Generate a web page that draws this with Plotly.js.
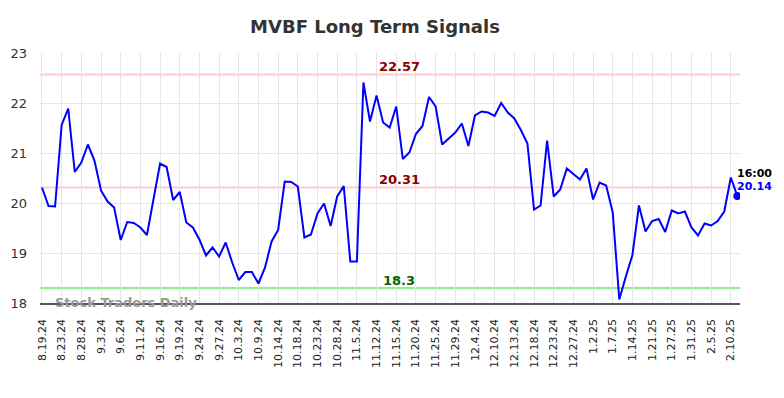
<!DOCTYPE html>
<html>
<head>
<meta charset="utf-8">
<script src="https://cdn.plot.ly/plotly-3.0.1.min.js"></script>
<style>html,body{margin:0;padding:0;background:#fff;}#chart{width:784px;height:398px;}</style>
</head>
<body>
<div id="chart"></div>
<script>
// Price series (one value per trading session, index 0..106)
const prices = [
  20.31, 19.94, 19.93, 21.56, 21.89, 20.62, 20.81, 21.17, 20.85, 20.25,
  20.03, 19.91, 19.26, 19.62, 19.60, 19.51, 19.36, 20.05, 20.79, 20.72,
  20.06, 20.22, 19.61, 19.51, 19.27, 18.95, 19.11, 18.93, 19.21, 18.81,
  18.46, 18.62, 18.62, 18.39, 18.71, 19.23, 19.46, 20.43, 20.42, 20.33,
  19.31, 19.37, 19.79, 19.99, 19.54, 20.13, 20.34, 18.83, 18.83, 22.41,
  21.63, 22.15, 21.61, 21.51, 21.93, 20.88, 21.01, 21.38, 21.54, 22.12,
  21.93, 21.17, 21.30, 21.41, 21.59, 21.14, 21.75, 21.83, 21.81, 21.74,
  22.00, 21.81, 21.69, 21.46, 21.19, 19.87, 19.95, 21.25, 20.13, 20.27,
  20.69, 20.58, 20.47, 20.69, 20.07, 20.41, 20.35, 19.81, 18.07, 18.53,
  18.96, 19.95, 19.43, 19.64, 19.68, 19.42, 19.85, 19.79, 19.83, 19.51,
  19.35, 19.59, 19.55, 19.64, 19.83, 20.51, 20.14
];
// Date labels shown on the x axis (every third session)
const tickLabels = [
  "8.19.24","8.23.24","8.28.24","9.3.24","9.6.24","9.11.24","9.16.24","9.19.24","9.24.24","9.27.24",
  "10.3.24","10.9.24","10.14.24","10.18.24","10.23.24","10.28.24","11.5.24","11.12.24","11.15.24","11.20.24",
  "11.25.24","11.29.24","12.4.24","12.10.24","12.13.24","12.18.24","12.23.24","12.27.24","1.2.25","1.7.25",
  "1.14.25","1.21.25","1.27.25","1.31.25","2.5.25","2.10.25"
];
const tickStep = 3;
// Signal levels
const upperSignal = 22.57;
const middleSignal = 20.31;
const lowerSignal = 18.3;
const lastTime = "16:00";
const lastPriceLabel = "20.14";

const xIdx = prices.map((_, i) => i);
const tickVals = tickLabels.map((_, i) => i * tickStep);
const lastI = prices.length - 1;
const FONT = "DejaVu Sans, sans-serif";

const hline = (y, color) => ({
  type: 'line', xref: 'paper', x0: 0, x1: 1, yref: 'y', y0: y, y1: y,
  line: {color: color, width: 2}, layer: 'below'
});

const data = [
  {x: xIdx, y: prices, type: 'scatter', mode: 'lines',
   line: {color: '#0000ff', width: 2}, hoverinfo: 'skip'},
  {x: [lastI], y: [prices[lastI]], type: 'scatter', mode: 'markers',
   marker: {color: '#0000ff', size: 8}, hoverinfo: 'skip'}
];

const layout = {
  width: 784, height: 398,
  margin: {l: 40, r: 44, t: 53, b: 95},
  paper_bgcolor: '#ffffff', plot_bgcolor: '#ffffff',
  showlegend: false,
  title: {text: 'MVBF Long Term Signals', x: 375/784, xanchor: 'center',
          y: 1 - 27/398, yanchor: 'middle', yref: 'container',
          font: {family: FONT, size: 18, color: '#333333', weight: 'bold'}},
  xaxis: {range: [-0.3, 106.4], tickmode: 'array', tickvals: tickVals, ticktext: tickLabels,
          tickangle: -90, showgrid: true, gridcolor: '#e6e6e6', gridwidth: 1,
          zeroline: false, showline: true, linecolor: '#555555', linewidth: 1.5,
          ticks: '', ticklabelstandoff: 10,
          tickfont: {family: FONT, size: 11, color: '#222222'}},
  yaxis: {range: [18, 23], tickvals: [18, 19, 20, 21, 22, 23], showgrid: true,
          gridcolor: '#e6e6e6', gridwidth: 1, zeroline: false, showline: false,
          ticks: '', ticklabelstandoff: 12,
          tickfont: {family: FONT, size: 13, color: '#333333'}},
  shapes: [hline(upperSignal, '#ffcccc'), hline(middleSignal, '#ffcccc'), hline(lowerSignal, '#90ee90')],
  annotations: [
    {xref: 'paper', x: 0.513, yref: 'y', y: upperSignal, text: upperSignal.toFixed(2),
     showarrow: false, yanchor: 'middle', yshift: 8,
     font: {family: FONT, size: 13, color: '#8b0000', weight: 'bold'}},
    {xref: 'paper', x: 0.513, yref: 'y', y: middleSignal, text: middleSignal.toFixed(2),
     showarrow: false, yanchor: 'middle', yshift: 8,
     font: {family: FONT, size: 13, color: '#8b0000', weight: 'bold'}},
    {xref: 'paper', x: 0.513, yref: 'y', y: lowerSignal, text: String(lowerSignal),
     showarrow: false, yanchor: 'middle', yshift: 8,
     font: {family: FONT, size: 13, color: '#006400', weight: 'bold'}},
    {xref: 'x', x: lastI, yref: 'y', y: prices[lastI], text: lastTime,
     showarrow: false, xanchor: 'left', yanchor: 'middle', xshift: -2, yshift: 23,
     font: {family: FONT, size: 11, color: '#000000', weight: 'bold'}},
    {xref: 'x', x: lastI, yref: 'y', y: prices[lastI], text: lastPriceLabel,
     showarrow: false, xanchor: 'left', yanchor: 'middle', xshift: -2, yshift: 10,
     font: {family: FONT, size: 11, color: '#0000ff', weight: 'bold'}},
    {xref: 'paper', x: 13/700, yref: 'paper', y: 0, text: 'Stock Traders Daily',
     showarrow: false, xanchor: 'left', yanchor: 'middle', yshift: 1,
     font: {family: FONT, size: 13, color: '#999999', weight: 'bold'}}
  ]
};

Plotly.newPlot('chart', data, layout, {displayModeBar: false, staticPlot: true});
</script>
</body>
</html>
